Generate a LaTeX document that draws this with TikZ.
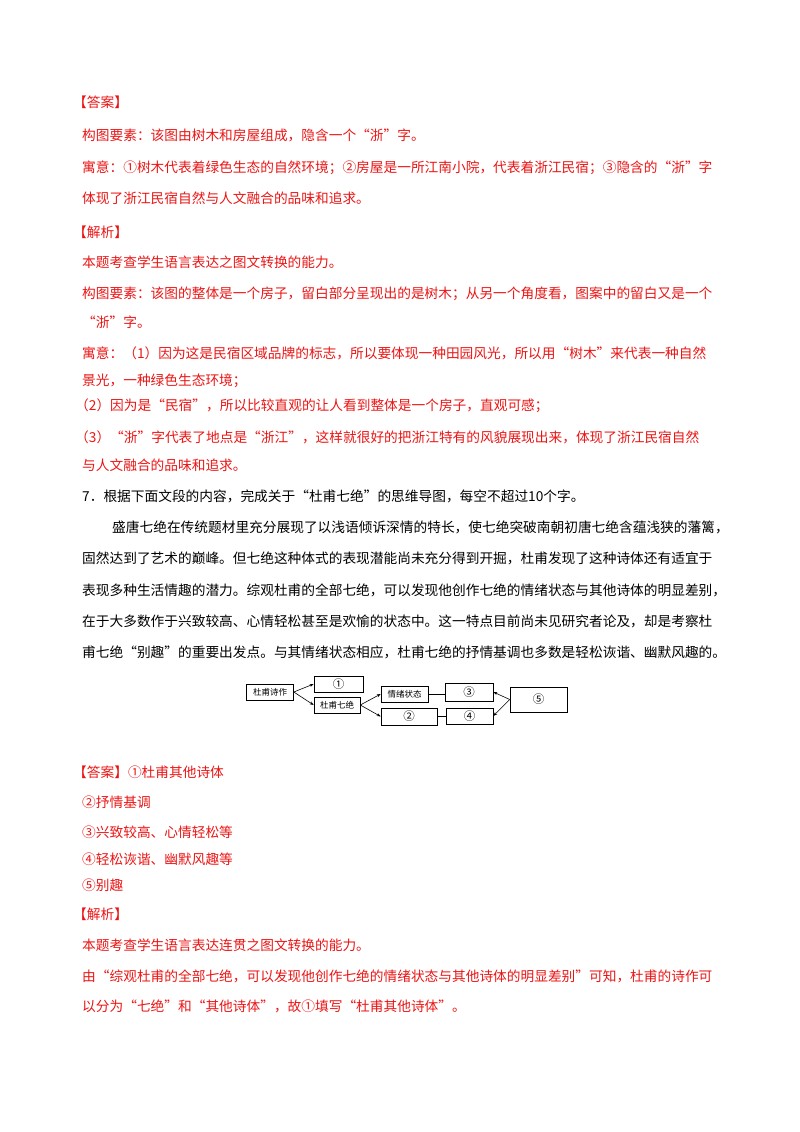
\documentclass[tikz,border=0pt]{standalone}
\usepackage{fontspec}
\setmainfont{Noto Sans CJK SC}
\usetikzlibrary{arrows.meta}
\definecolor{ansred}{RGB}{235,20,20}
\begin{document}
\begin{tikzpicture}[x=1pt,y=-1pt,
  ln/.style={anchor=west,inner sep=0pt,font=\fontsize{13.7}{14}\selectfont},
  rl/.style={ln,text=ansred},
  bx/.style={draw,line width=0.6pt,inner sep=0pt,font=\fontsize{8.5}{9}\selectfont},
  cn/.style={font=\fontsize{11.5}{12}\selectfont},
  ar/.style={-{Stealth[length=4pt,width=3pt]},line width=0.6pt}]
\useasboundingbox (0,0) rectangle (800,1132);
\node[rl] (t1) at (73,102) {【答案】};
\node[rl] (t2) at (82,135) {构图要素：该图由树木和房屋组成，隐含一个“浙”字。};
\node[rl] (t3) at (82,168) {寓意：①树木代表着绿色生态的自然环境；②房屋是一所江南小院，代表着浙江民宿；③隐含的“浙”字};
\node[rl] (t4) at (82,198) {体现了浙江民宿自然与人文融合的品味和追求。};
\node[rl] (t5) at (73,232) {【解析】};
\node[rl] (t6) at (82,262) {本题考查学生语言表达之图文转换的能力。};
\node[rl] (t7) at (82,294) {构图要素：该图的整体是一个房子，留白部分呈现出的是树木；从另一个角度看，图案中的留白又是一个};
\node[rl] (t8) at (82,322) {“浙”字。};
\node[rl] (t9) at (82,353) {寓意：（1）因为这是民宿区域品牌的标志，所以要体现一种田园风光，所以用“树木”来代表一种自然};
\node[rl] (t10) at (82,381) {景光，一种绿色生态环境；};
\node[rl] (t11) at (75,406) {（2）因为是“民宿”，所以比较直观的让人看到整体是一个房子，直观可感；};
\node[rl] (t12) at (75,437) {（3）“浙”字代表了地点是“浙江”，这样就很好的把浙江特有的风貌展现出来，体现了浙江民宿自然};
\node[rl] (t13) at (82,465) {与人文融合的品味和追求。};
\node[ln] (q1) at (82,496) {7．根据下面文段的内容，完成关于“杜甫七绝”的思维导图，每空不超过10个字。};
\node[ln] (p1) at (112,527) {盛唐七绝在传统题材里充分展现了以浅语倾诉深情的特长，使七绝突破南朝初唐七绝含蕴浅狭的藩篱，};
\node[ln] (p2) at (82,558) {固然达到了艺术的巅峰。但七绝这种体式的表现潜能尚未充分得到开掘，杜甫发现了这种诗体还有适宜于};
\node[ln] (p3) at (82,590) {表现多种生活情趣的潜力。综观杜甫的全部七绝，可以发现他创作七绝的情绪状态与其他诗体的明显差别，};
\node[ln] (p4) at (82,621) {在于大多数作于兴致较高、心情轻松甚至是欢愉的状态中。这一特点目前尚未见研究者论及，却是考察杜};
\node[ln] (p5) at (82,652) {甫七绝“别趣”的重要出发点。与其情绪状态相应，杜甫七绝的抒情基调也多数是轻松诙谐、幽默风趣的。};
% diagram
\node[bx,minimum width=47pt,minimum height=16pt] (a) at (270,692) {杜甫诗作};
\node[bx,cn,minimum width=49pt,minimum height=16pt] (b1) at (338.5,684) {①};
\node[bx,minimum width=46pt,minimum height=16pt] (b2) at (337,705) {杜甫七绝};
\node[bx,minimum width=47pt,minimum height=16pt] (c1) at (404.5,694) {情绪状态};
\node[bx,cn,minimum width=56pt,minimum height=17pt] (c2) at (409,716.5) {②};
\node[bx,cn,minimum width=48pt,minimum height=18pt] (d1) at (469,692) {③};
\node[bx,cn,minimum width=47pt,minimum height=16pt] (d2) at (469.5,716) {④};
\node[bx,cn,minimum width=57pt,minimum height=25pt] (e) at (538.5,699.5) {⑤};
\draw[ar] (a.east) -- (b1.west);
\draw[ar] (a.east) -- (b2.west);
\draw[ar] (b2.east) -- (c1.west);
\draw[ar] (b2.east) -- (c2.west);
\draw[line width=0.6pt] (c1.east) -- (d1.west|-c1.east);
\draw[line width=0.6pt] (c2.east) -- (d2.west|-c2.east);
\draw[ar] (e.west) -- (d1.east);
\draw[ar] (e.west) -- (d2.east);
% answers
\node[rl] (r1) at (73,772) {【答案】①杜甫其他诗体};
\node[rl] (r2) at (82,802) {②抒情基调};
\node[rl] (r3) at (82,832) {③兴致较高、心情轻松等};
\node[rl] (r4) at (82,859) {④轻松诙谐、幽默风趣等};
\node[rl] (r5) at (82,885) {⑤别趣};
\node[rl] (r6) at (73,914) {【解析】};
\node[rl] (r7) at (82,945) {本题考查学生语言表达连贯之图文转换的能力。};
\node[rl] (r8) at (82,976) {由“综观杜甫的全部七绝，可以发现他创作七绝的情绪状态与其他诗体的明显差别”可知，杜甫的诗作可};
\node[rl] (r9) at (82,1006) {以分为“七绝”和“其他诗体”，故①填写“杜甫其他诗体”。};
\end{tikzpicture}
\end{document}
